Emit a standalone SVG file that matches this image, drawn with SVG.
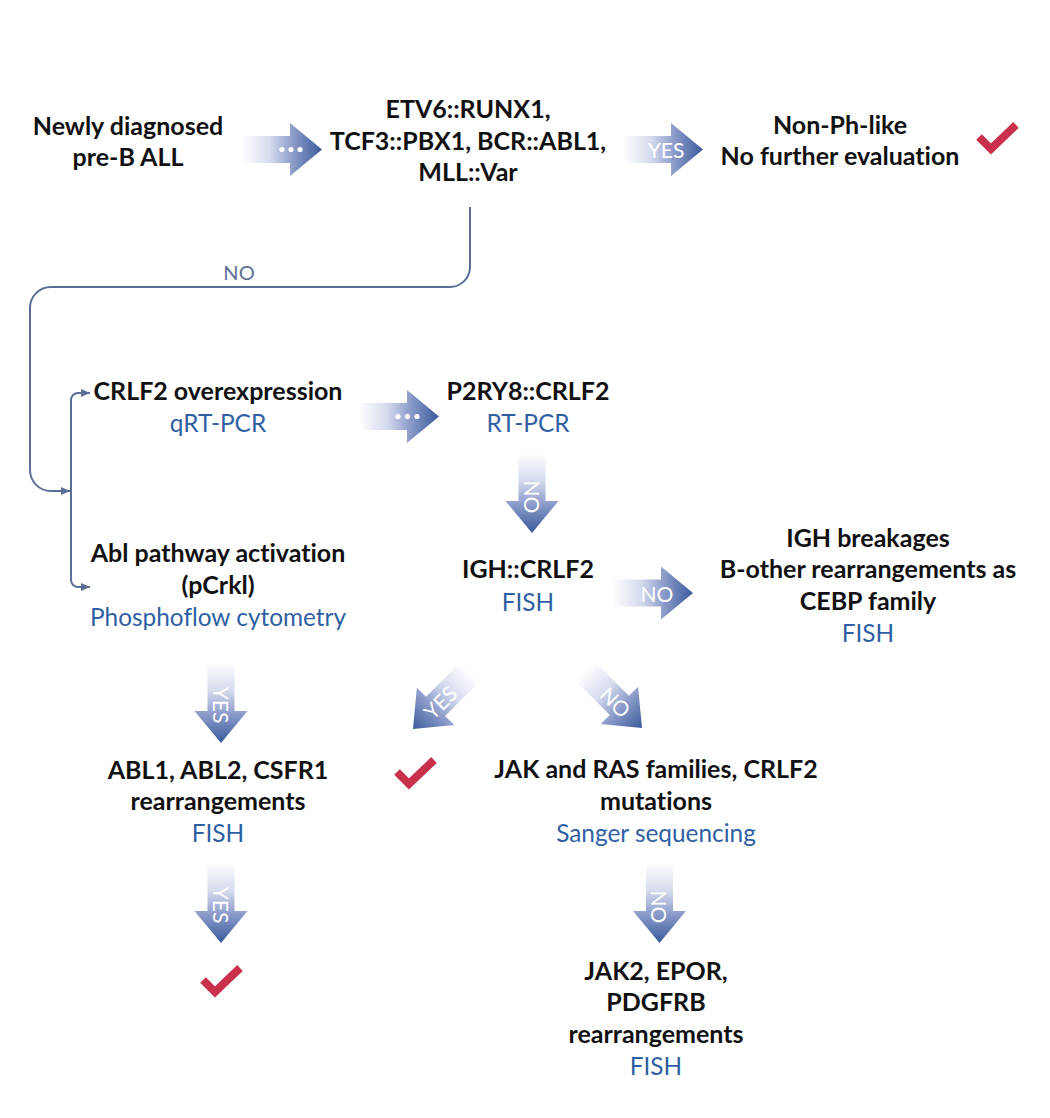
<svg xmlns="http://www.w3.org/2000/svg" width="1050" height="1118" viewBox="0 0 1050 1118">
<style>
.t{font-family:Lato,"Liberation Sans",sans-serif;font-size:24.4px;text-anchor:middle;font-variant-ligatures:none}
.b{font-weight:bold;fill:#111111;font-size:25px}
.m{fill:#2f5fa3}
.w{font-family:Lato,"Liberation Sans",sans-serif;font-size:21px;fill:#ffffff;text-anchor:middle;dominant-baseline:central}
.conn{fill:none;stroke:#5b6f96;stroke-width:2}
.chk{fill:none;stroke:#c8304b;stroke-width:8;stroke-linejoin:miter;stroke-linecap:butt}
</style>
<defs>
<linearGradient id="ag" x1="0" y1="0" x2="1" y2="0">
<stop offset="0" stop-color="#ffffff"/>
<stop offset="0.35" stop-color="#d5daed"/>
<stop offset="0.62" stop-color="#909fcc"/>
<stop offset="1" stop-color="#3a5a9b"/>
</linearGradient>
<path id="arr" d="M-80,-13.5 H-32 V-26.5 L0,0 L-32,26.5 V13.5 H-80 Z" fill="url(#ag)"/>
<marker id="mh" markerUnits="userSpaceOnUse" markerWidth="10" markerHeight="10" viewBox="0 0 10 10" refX="9" refY="5" orient="auto">
<path d="M0,1 L9,5 L0,9 Z" fill="#5b6f96"/>
</marker>
</defs>
<rect width="1050" height="1118" fill="#ffffff"/>

<g id="connectors">
<path class="conn" d="M470,207 V267 A20,20 0 0 1 450,287 H51 A21,21 0 0 0 30,308 V470 A21,21 0 0 0 51,491 H70" marker-end="url(#mh)"/>
<path class="conn" d="M71,490 V400 A7,7 0 0 1 78,393 H90" marker-end="url(#mh)"/>
<path class="conn" d="M71,490 V580 A7,7 0 0 0 78,587 H90" marker-end="url(#mh)"/>
<text x="239" y="280" style="font-family:Lato,'Liberation Sans',sans-serif;font-size:20px;fill:#5b6f96;text-anchor:middle">NO</text>

<g id="a1" transform="translate(322,149.5)"><use href="#arr"/><circle cx="-40" cy="0" r="2.6" fill="#fff"/><circle cx="-31" cy="0" r="2.6" fill="#fff"/><circle cx="-22" cy="0" r="2.6" fill="#fff"/></g>
<g id="a2" transform="translate(703,149.5)"><use href="#arr"/><text class="w" x="-37" y="0">YES</text></g>
<g id="a3" transform="translate(439,416.5)"><use href="#arr"/><circle cx="-41" cy="0" r="2.6" fill="#fff"/><circle cx="-31.5" cy="0" r="2.6" fill="#fff"/><circle cx="-22" cy="0" r="2.6" fill="#fff"/></g>
<g id="a4" transform="translate(532,533) rotate(90)"><use href="#arr"/><text class="w" x="-36" y="0">NO</text></g>
<g id="a5" transform="translate(693,593) "><use href="#arr"/><text class="w" x="-36" y="0">NO</text></g>
<g id="a6" transform="translate(221,743) rotate(90)"><use href="#arr"/><text class="w" x="-38" y="0">YES</text></g>
<g id="a7" transform="translate(221,943) rotate(90)"><use href="#arr"/><text class="w" x="-38" y="0">YES</text></g>
<g id="a8" transform="translate(413,729) rotate(135)"><use href="#arr"/><text class="w" x="-38" y="0" transform="rotate(180 -38 0)">YES</text></g>
<g id="a9" transform="translate(642,728) rotate(45)"><use href="#arr"/><text class="w" x="-37" y="0">NO</text></g>
<g id="a10" transform="translate(659.5,943) rotate(90)"><use href="#arr"/><text class="w" x="-36" y="0">NO</text></g>
</g>

<g id="n1" class="t b"><text x="128" y="135">Newly diagnosed</text><text x="128" y="166">pre-B ALL</text></g>
<g id="n2" class="t b"><text x="468" y="118">ETV6::RUNX1,</text><text x="468" y="150">TCF3::PBX1, BCR::ABL1,</text><text x="468" y="181">MLL::Var</text></g>
<g id="n3" class="t b"><text x="840" y="134">Non-Ph-like</text><text x="840" y="165">No further evaluation</text></g>
<g id="n4" class="t"><text class="b" x="218" y="400">CRLF2 overexpression</text><text class="m" x="218" y="432">qRT-PCR</text></g>
<g id="n5" class="t"><text class="b" x="528" y="400">P2RY8::CRLF2</text><text class="m" x="528" y="432">RT-PCR</text></g>
<g id="n6" class="t"><text class="b" x="218" y="562">Abl pathway activation</text><text class="b" x="218" y="594">(pCrkl)</text><text class="m" x="218" y="626">Phosphoflow cytometry</text></g>
<g id="n7" class="t"><text class="b" x="528" y="578">IGH::CRLF2</text><text class="m" x="528" y="611">FISH</text></g>
<g id="n8" class="t"><text class="b" x="868" y="547">IGH breakages</text><text class="b" x="868" y="578">B-other rearrangements as</text><text class="b" x="868" y="610">CEBP family</text><text class="m" x="868" y="642">FISH</text></g>
<g id="n9" class="t"><text class="b" x="218" y="779">ABL1, ABL2, CSFR1</text><text class="b" x="218" y="810">rearrangements</text><text class="m" x="218" y="842">FISH</text></g>
<g id="n10" class="t"><text class="b" x="656" y="778">JAK and RAS families, CRLF2</text><text class="b" x="656" y="810">mutations</text><text class="m" x="656" y="842">Sanger sequencing</text></g>
<g id="n11" class="t"><text class="b" x="656" y="980">JAK2, EPOR,</text><text class="b" x="656" y="1011">PDGFRB</text><text class="b" x="656" y="1043">rearrangements</text><text class="m" x="656" y="1075">FISH</text></g>

<g id="checks">
<polyline class="chk" points="979,137 991,149 1016,125"/>
<polyline class="chk" points="397,772 409,784 434,760"/>
<polyline class="chk" points="203,980 215,992 240,968"/>
</g>
</svg>
